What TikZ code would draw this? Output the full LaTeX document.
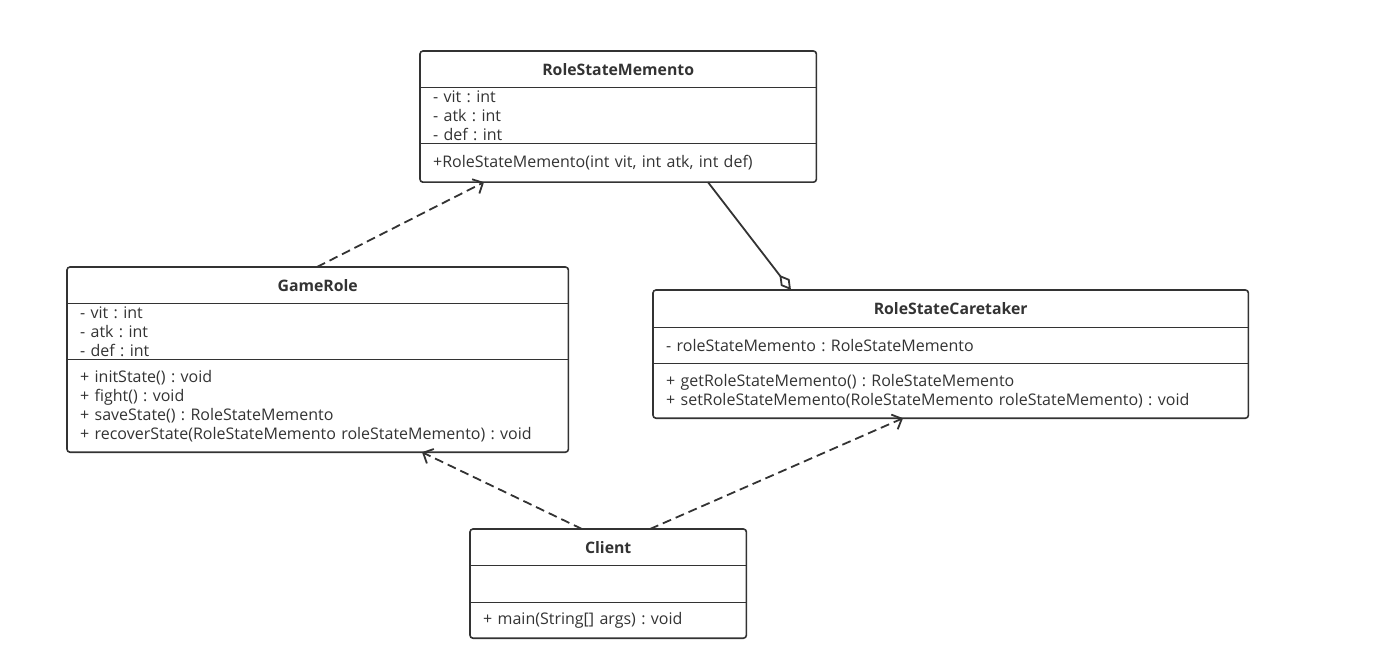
\documentclass[tikz,border=0pt]{standalone}
\usepackage{fontspec}
\setmainfont{Open Sans}
\frenchspacing
\usetikzlibrary{arrows.meta,positioning}
\definecolor{ink}{HTML}{333333}
\tikzset{frame/.style={draw=ink,line width=1.6pt,rounded corners=3pt},part/.style={inner xsep=13pt,inner ysep=0pt,text=ink,align=left,font=\fontsize{16}{19}\selectfont},title/.style={inner sep=0pt,text=ink,font=\fontsize{15.8}{19}\selectfont\bfseries},sep/.style={draw=ink,line width=1.2pt},dep/.style={draw=ink,line width=1.8pt,dash pattern=on 9pt off 5pt,-{Straight Barb[length=8pt,width=16pt]}},agg/.style={draw=ink,line width=1.8pt,-{Diamond[open,length=19pt,width=11pt]}}}

\begin{document}
\begin{tikzpicture}[x=1pt,y=-1pt]
\useasboundingbox (0,0) rectangle (1387,660);
% RoleStateMemento
\node[title,anchor=north west,minimum width=396pt,minimum height=36pt] (rsmT) at (420,51) {RoleStateMemento};
\node[part,below=0pt of rsmT,text width=370pt,minimum height=56pt] (rsmA) {- vit : int\\- atk : int\\- def : int};
\node[part,below=0pt of rsmA,text width=370pt,minimum height=38pt] (rsmM) {+RoleStateMemento(int vit, int atk, int def)};
% GameRole
\node[title,anchor=north west,minimum width=501pt,minimum height=36pt] (grT) at (67,267) {GameRole};
\node[part,below=0pt of grT,text width=475pt,minimum height=56pt] (grA) {- vit : int\\- atk : int\\- def : int};
\node[part,below=0pt of grA,text width=475pt,minimum height=92pt] (grM) {+ initState() : void\\+ fight() : void\\+ saveState() : RoleStateMemento\\+ recoverState(RoleStateMemento roleStateMemento) : void};
% RoleStateCaretaker
\node[title,anchor=north west,minimum width=595pt,minimum height=37pt] (cT) at (653,290) {RoleStateCaretaker};
\node[part,below=0pt of cT,text width=569pt,minimum height=36pt] (cA) {- roleStateMemento : RoleStateMemento};
\node[part,below=0pt of cA,text width=569pt,minimum height=54pt] (cM) {+ getRoleStateMemento() : RoleStateMemento\\+ setRoleStateMemento(RoleStateMemento roleStateMemento) : void};
% Client
\node[title,anchor=north west,minimum width=276pt,minimum height=36pt] (clT) at (470,529) {Client};
\node[part,below=0pt of clT,text width=250pt,minimum height=37pt] (clA) {};
\node[part,below=0pt of clA,text width=250pt,minimum height=35pt] (clM) {+ main(String[] args) : void};
% frames and compartments
\draw[frame] (rsmT.north west) rectangle (rsmM.south east);
\draw[sep] (rsmA.north west) -- (rsmA.north east);
\draw[sep] (rsmM.north west) -- (rsmM.north east);
\draw[frame] (grT.north west) rectangle (grM.south east);
\draw[sep] (grA.north west) -- (grA.north east);
\draw[sep] (grM.north west) -- (grM.north east);
\draw[frame] (cT.north west) rectangle (cM.south east);
\draw[sep] (cA.north west) -- (cA.north east);
\draw[sep] (cM.north west) -- (cM.north east);
\draw[frame] (clT.north west) rectangle (clM.south east);
\draw[sep] (clA.north west) -- (clA.north east);
\draw[sep] (clM.north west) -- (clM.north east);
% relations
\draw[dep] ([xshift=250pt]grT.north west) -- ([xshift=64pt]rsmM.south west);
\draw[agg] ([xshift=288pt]rsmM.south west) -- ([xshift=138pt]cT.north west);
\draw[dep] ([xshift=112pt]clT.north west) -- ([xshift=355pt]grM.south west);
\draw[dep] ([xshift=180pt]clT.north west) -- ([xshift=250pt]cM.south west);
\end{tikzpicture}
\end{document}
